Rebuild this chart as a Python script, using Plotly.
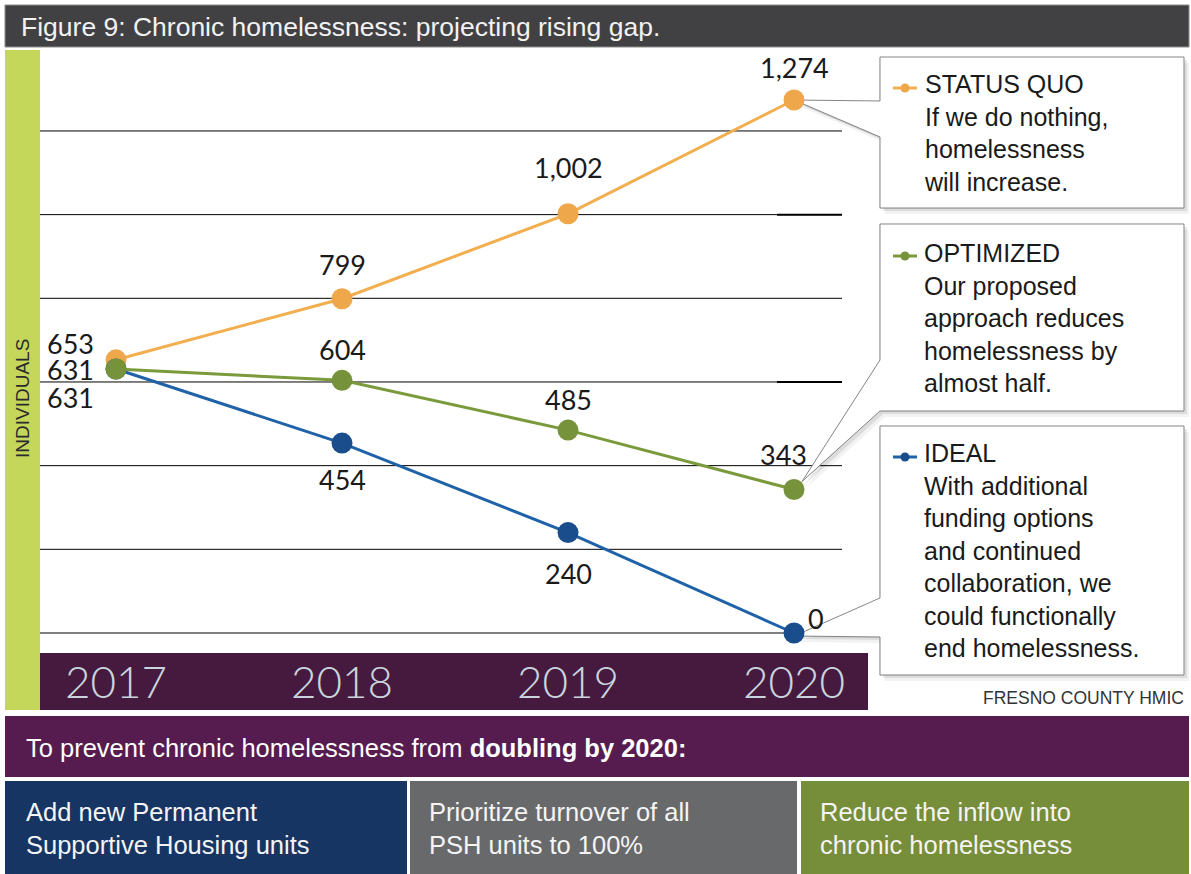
import plotly.graph_objects as go

# ---------------- data ----------------
years = [2017, 2018, 2019, 2020]
year_labels = ["2017", "2018", "2019", "2020"]
status_quo = [653, 799, 1002, 1274]
optimized = [631, 604, 485, 343]
ideal = [631, 454, 240, 0]
grid_values = [0, 200, 400, 600, 800, 1000, 1200]

series_names = ["STATUS QUO", "OPTIMIZED", "IDEAL"]
series_desc = [
    "If we do nothing,<br>homelessness<br>will increase.",
    "Our proposed<br>approach reduces<br>homelessness by<br>almost half.",
    "With additional<br>funding options<br>and continued<br>collaboration, we<br>could functionally<br>end homelessness.",
]
title_text = "Figure 9: Chronic homelessness: projecting rising gap."
y_title = "INDIVIDUALS"
source_text = "FRESNO COUNTY HMIC"
banner_text = "To prevent chronic homelessness from <b>doubling by 2020:</b>"
actions = [
    "Add new Permanent<br>Supportive Housing units",
    "Prioritize turnover of all<br>PSH units to 100%",
    "Reduce the inflow into<br>chronic homelessness",
]

# ---------------- layout constants ----------------
W, H = 1191, 874
PX_L, PX_R = 40, 868      # plot area (pixels)
PX_T, PX_B = 50, 653
XR = [2016.6637, 2020.3274]
YR = [-47.8, 1393.5]

ORANGE, ORANGE_M = "#f2ae4f", "#eea74a"
GREEN, GREEN_M = "#7a9a3c", "#76923a"
BLUE, BLUE_M = "#1f62a8", "#1a4d8c"
colors = [(ORANGE, ORANGE_M), (GREEN, GREEN_M), (BLUE, BLUE_M)]
series = [status_quo, optimized, ideal]

LABEL_FONT = "Lato, 'Open Sans', sans-serif"
SANS = "'Liberation Sans', Arial, sans-serif"


def px_x(v):
    return PX_L + (v - XR[0]) / (XR[1] - XR[0]) * (PX_R - PX_L)


def px_y(v):
    return PX_B - (v - YR[0]) / (YR[1] - YR[0]) * (PX_B - PX_T)


def P(x, y):
    return x / W, 1 - y / H


def path(pts):
    s = ""
    for i, (x, y) in enumerate(pts):
        a, b = P(x, y)
        s += ("M" if i == 0 else " L") + f"{a:.5f},{b:.5f}"
    return s + " Z"


shapes = []


def rect(x0, y0, x1, y1, fill, line=None, lw=0):
    a0, b0 = P(x0, y0)
    a1, b1 = P(x1, y1)
    shapes.append(dict(type="rect", xref="paper", yref="paper", x0=a0, y0=b1, x1=a1, y1=b0,
                       fillcolor=fill, line=dict(color=line or fill, width=lw), layer="below"))


def seg(x0, y0, x1, y1, color, width):
    a0, b0 = P(x0, y0)
    a1, b1 = P(x1, y1)
    shapes.append(dict(type="line", xref="paper", yref="paper", x0=a0, y0=b0, x1=a1, y1=b1,
                       line=dict(color=color, width=width), layer="below"))


# background blocks
rect(5, 5, 1189, 47, "#414143", "#8c8c8c", 1)
rect(5, 50, 40, 710, "#c5d75b")
rect(40, 653, 868, 710, "#461a3e")
rect(5, 716, 1189, 777, "#561c4f")
rect(5, 781, 407, 874, "#173563")
rect(410, 781, 797, 874, "#68696b")
rect(801, 781, 1189, 874, "#768d39")

# gridlines
for gv in grid_values:
    seg(PX_L, px_y(gv), 842, px_y(gv), "#000000", 1)
for gv in (1000, 600):
    seg(777, px_y(gv), 842, px_y(gv), "#000000", 2)

# callouts
tips = [
    (px_x(years[-1]), px_y(status_quo[-1])),
    (px_x(years[-1]) + 8, px_y(optimized[-1]) - 8),
    (px_x(years[-1]), px_y(ideal[-1]) + 3),
]
boxes = [(57, 208, 101, 137), (224, 411, 360, 411), (426, 675, 598, 637)]
BL, BR = 880, 1184
for (top, bot, o1, o2), tip in zip(boxes, tips):
    pts = [(BL, top), (BR, top), (BR, bot), (BL, bot), (BL, o2), tip, (BL, o1)]
    for dx, dy, al in ((5, 6, 0.05), (3, 3, 0.09), (-1, 1, 0.05)):
        shapes.append(dict(type="path", xref="paper", yref="paper",
                           path=path([(x + dx, y + dy) for x, y in pts]),
                           fillcolor=f"rgba(0,0,0,{al})", line=dict(width=0), layer="below"))
    shapes.append(dict(type="path", xref="paper", yref="paper", path=path(pts),
                       fillcolor="#ffffff", line=dict(color="#858585", width=1), layer="below"))

# legend icons
icon_y = [88, 256, 457]
for (lc, mc), iy in zip(colors, icon_y):
    seg(893, iy, 917, iy, lc, 3)
    a0, b0 = P(900.5, iy - 4.5)
    a1, b1 = P(909.5, iy + 4.5)
    shapes.append(dict(type="circle", xref="paper", yref="paper", x0=a0, y0=b1, x1=a1, y1=b0,
                       fillcolor=mc, line=dict(width=0), layer="below"))

fig = go.Figure()
for (lc, mc), vals, name in zip([colors[0], colors[2], colors[1]],
                                [status_quo, ideal, optimized],
                                ["STATUS QUO", "IDEAL", "OPTIMIZED"]):
    fig.add_trace(go.Scatter(x=years, y=vals, mode="lines+markers", name=name,
                             line=dict(color=lc, width=3),
                             marker=dict(size=21, color=mc, line=dict(width=0)),
                             cliponaxis=False, showlegend=False, hoverinfo="skip"))

annotations = []
# value labels (offsets in pixels)
label_offsets = [
    [(-21, 16, "right"), (0, 34, "center"), (0, 46, "center"), (0, 33, "center")],
    [(-21, 0, "right"), (0, 31, "center"), (0, 31, "center"), (-11, 35, "center")],
    [(-21, -28, "right"), (0, -36, "center"), (0, -41, "center"), (22, 15, "center")],
]
for vals, offs in zip(series, label_offsets):
    for x, v, (dx, dy, xa) in zip(years, vals, offs):
        annotations.append(dict(x=x, y=v, xref="x", yref="y", text=f"{v:,}", showarrow=False,
                                xanchor=xa, yanchor="middle", xshift=dx, yshift=dy,
                                borderpad=0,
                                font=dict(family=LABEL_FONT, size=27, color="#1a1a1a")))

# year labels in band
for x, t in zip(years, year_labels):
    annotations.append(dict(x=x, y=P(0, 681)[1], xref="x", yref="paper", text=t, showarrow=False,
                            xanchor="center", yanchor="middle",
                            font=dict(family=LABEL_FONT, size=44, color="#c9d5de", weight=300)))

# callout texts
block_centers = [132.5, 318, 550]
for name, desc, yc in zip(series_names, series_desc, block_centers):
    annotations.append(dict(x=P(922, 0)[0], y=P(0, yc)[1], xref="paper", yref="paper",
                            text=name + "<br>" + desc, showarrow=False, align="left",
                            xanchor="left", yanchor="middle",
                            font=dict(family=SANS, size=25, color="#1a1a1a")))


# other texts
def txt(x, y, t, size, color, xa="left", angle=0, family=SANS):
    annotations.append(dict(x=P(x, 0)[0], y=P(0, y)[1], xref="paper", yref="paper", text=t,
                            showarrow=False, align="left", xanchor=xa, yanchor="middle",
                            textangle=angle, font=dict(family=family, size=size, color=color)))


txt(19, 27, title_text, 26.5, "#f2f2f2")
txt(22, 399, y_title, 19, "#2b2b2b", xa="center", angle=-90)
txt(1186, 698, source_text, 17.5, "#333333", xa="right")
txt(24, 748, banner_text, 25.5, "#ffffff")
for xpos, t in zip([24, 427, 818], actions):
    txt(xpos, 828, t, 25.5, "#f4f4f4")

fig.update_layout(
    width=W, height=H, margin=dict(l=0, r=0, t=0, b=0),
    paper_bgcolor="#ffffff", plot_bgcolor="rgba(0,0,0,0)",
    xaxis=dict(range=XR, domain=[PX_L / W, PX_R / W], visible=False),
    yaxis=dict(range=YR, domain=[1 - PX_B / H, 1 - PX_T / H], visible=False),
    shapes=shapes, annotations=annotations, showlegend=False,
)

fig.write_html(
    "out.html",
    config={"displayModeBar": False},
    post_script="document.body.style.margin='0px';document.body.style.padding='0px';"
                "document.body.style.overflow='hidden';",
)
